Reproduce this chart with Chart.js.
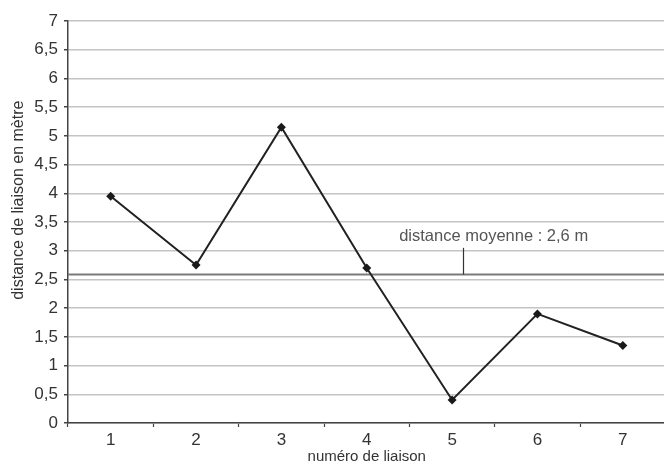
<!DOCTYPE html>
<html>
<head>
<meta charset="utf-8">
<script src="https://cdn.jsdelivr.net/npm/chart.js@4/dist/chart.umd.min.js"></script>
<style>
  body { margin: 0; overflow: hidden; background: #fff; }
  #wrap { position: relative; width: 670px; height: 469px; }
</style>
</head>
<body>
<div id="wrap"><canvas id="myChart"></canvas></div>
<script>
// données
var liaisons = ["1", "2", "3", "4", "5", "6", "7"];
var distances = [3.95, 2.75, 5.15, 2.7, 0.4, 1.9, 1.35];
var distanceMoyenne = 2.6;
var texteMoyenne = "distance moyenne : 2,6 m";
var titreY = "distance de liaison en mètre";
var titreX = "numéro de liaison";

var police = '"Liberation Sans", Arial, sans-serif';

// trait de la moyenne + étiquette + titre de l'axe vertical
var moyennePlugin = {
  id: "moyenne",
  beforeDatasetsDraw: function (chart) {
    var ctx = chart.ctx;
    var x = chart.scales.x;
    var y = chart.scales.y;
    var area = chart.chartArea;
    var yMoy = Math.round(y.getPixelForValue(distanceMoyenne)) + 0.5;
    ctx.save();
    ctx.strokeStyle = "#7a7a7a";
    ctx.lineWidth = 2;
    ctx.beginPath();
    ctx.moveTo(area.left, yMoy);
    ctx.lineTo(area.right, yMoy);
    ctx.stroke();
    // petit trait de rappel
    var xr = Math.round(x.getPixelForValue(4.13)) + 0.5;
    ctx.strokeStyle = "#333";
    ctx.lineWidth = 1.2;
    ctx.beginPath();
    ctx.moveTo(xr, y.getPixelForValue(3.05));
    ctx.lineTo(xr, yMoy);
    ctx.stroke();
    ctx.fillStyle = "#555";
    ctx.font = "16.5px " + police;
    ctx.textBaseline = "middle";
    ctx.textAlign = "left";
    ctx.fillText(texteMoyenne, x.getPixelForValue(3.38), y.getPixelForValue(3.24));
    // titre Y (pas centré sur la zone du graphe dans l'original)
    ctx.translate(19, y.getPixelForValue(3.88));
    ctx.rotate(-Math.PI / 2);
    ctx.fillStyle = "#333";
    ctx.font = "16px " + police;
    ctx.textAlign = "center";
    ctx.fillText(titreY, 0, 0);
    ctx.restore();
  }
};

var ctx = document.getElementById("myChart");
var myChart = new Chart(ctx, {
  type: "line",
  data: {
    labels: liaisons,
    datasets: [{
      data: distances,
      borderColor: "#222",
      borderWidth: 2,
      pointStyle: "rectRot",
      pointRadius: 4.5,
      pointBackgroundColor: "#1a1a1a",
      pointBorderWidth: 0,
      tension: 0,
      fill: false
    }]
  },
  options: {
    responsive: true,
    maintainAspectRatio: false,
    animation: false,
    layout: { padding: { top: 21, right: 0, left: 0, bottom: 0 } },
    plugins: {
      legend: { display: false },
      tooltip: { enabled: false }
    },
    scales: {
      x: {
        offset: true,
        grid: {
          offset: true,
          drawOnChartArea: false,
          drawTicks: true,
          tickLength: 4,
          tickColor: "#444",
          tickWidth: 1.2
        },
        border: { color: "#444", width: 1.5 },
        ticks: {
          color: "#333",
          padding: 3,
          maxRotation: 0,
          font: { family: police, size: 17 }
        },
        title: {
          display: true,
          text: titreX,
          color: "#333",
          padding: { top: 0, bottom: 3 },
          font: { family: police, size: 15 }
        },
        afterFit: function (scale) { scale.height = 46; }
      },
      y: {
        min: 0,
        max: 7,
        grid: {
          color: "#c4c4c4",
          lineWidth: 1.5,
          tickLength: 4,
          tickColor: "#444"
        },
        border: { color: "#444", width: 1.5 },
        ticks: {
          stepSize: 0.5,
          color: "#333",
          padding: 6,
          font: { family: police, size: 17 },
          callback: function (v) { return String(v).replace(".", ","); }
        },
        afterFit: function (scale) { scale.width = 68; }
      }
    }
  },
  plugins: [moyennePlugin]
});
</script>
</body>
</html>
